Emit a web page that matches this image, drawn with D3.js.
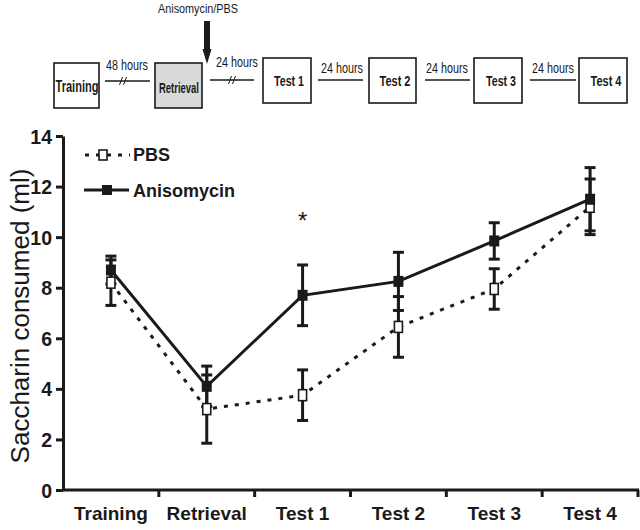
<!DOCTYPE html>
<html>
<head>
<meta charset="utf-8">
<script src="https://cdn.jsdelivr.net/npm/d3@7"></script>
<style>
  html, body { margin: 0; padding: 0; background: #fff; }
  svg { display: block; }
  text { font-family: "Liberation Sans", Arial, sans-serif; fill: #1a1a1a; }
</style>
</head>
<body>
<svg id="chart" width="640" height="530"></svg>
<script>
// ---- data ----
const categories = ["Training", "Retrieval", "Test 1", "Test 2", "Test 3", "Test 4"];
const pbsMean    = [8.2, 3.2, 3.75, 6.45, 7.95, 11.2];
const pbsErr     = [0.9, 1.35, 1.0, 1.2, 0.8, 1.1];
const anisoMean  = [8.7, 4.1, 7.7, 8.25, 9.85, 11.5];
const anisoErr   = [0.55, 0.8, 1.2, 1.15, 0.72, 1.25];
const yTicks     = [0, 2, 4, 6, 8, 10, 12, 14];
const seriesNames = ["PBS", "Anisomycin"];
const yTitle = "Saccharin consumed (ml)";
const sigMarks = ["", "", "*", "", "", ""];

// timeline diagram labels
const stageLabels = ["Training", "Retrieval", "Test 1", "Test 2", "Test 3", "Test 4"];
const intervalLabels = ["48 hours", "24 hours", "24 hours", "24 hours", "24 hours"];
const injectionLabel = "Anisomycin/PBS";

const INK = "#1a1a1a";
const svg = d3.select("#chart");

// ---- scales ----
const x = d3.scaleBand().domain(categories).range([63, 638]).padding(0);
const y = d3.scaleLinear().domain([0, 14]).range([490, 136]);
const cx = c => x(c) + x.bandwidth() / 2;

// ---- y axis ----
const yAxis = svg.append("g").attr("transform", "translate(63,0)")
  .call(d3.axisLeft(y).tickValues(yTicks).tickSize(7).tickSizeOuter(0).tickPadding(4).tickFormat(d3.format("d")));
yAxis.select(".domain").attr("stroke", INK).attr("stroke-width", 3);
yAxis.selectAll(".tick line").attr("stroke", INK).attr("stroke-width", 3);
yAxis.selectAll(".tick text").attr("font-size", 19.5).attr("font-weight", "bold")
  .attr("font-family", "Liberation Sans, Arial, sans-serif").attr("fill", INK).attr("dy", "0.36em");

// ---- x axis ----
const xAxis = svg.append("g").attr("transform", "translate(0,490)")
  .call(d3.axisBottom(x).tickSize(0).tickPadding(17));
xAxis.select(".domain").remove();
xAxis.selectAll(".tick text").attr("font-size", 19).attr("font-weight", "bold")
  .attr("font-family", "Liberation Sans, Arial, sans-serif").attr("fill", INK);
svg.append("line").attr("x1", 62).attr("x2", 639).attr("y1", 490).attr("y2", 490)
  .attr("stroke", INK).attr("stroke-width", 3);
svg.append("g").selectAll("line").data(categories).join("line")
  .attr("x1", c => x(c) + x.bandwidth()).attr("x2", c => x(c) + x.bandwidth())
  .attr("y1", 490).attr("y2", 497).attr("stroke", INK).attr("stroke-width", 3);

// ---- y title ----
svg.append("text")
  .attr("transform", "translate(29,316) rotate(-90)")
  .attr("text-anchor", "middle")
  .attr("font-size", 26)
  .text(yTitle);

// ---- error bars ----
function errorBars(means, errs) {
  const g = svg.append("g").attr("stroke", INK).attr("stroke-width", 3);
  categories.forEach((c, i) => {
    const xc = cx(c), top = y(means[i] + errs[i]), bot = y(means[i] - errs[i]);
    g.append("line").attr("x1", xc).attr("x2", xc).attr("y1", top).attr("y2", bot);
    g.append("line").attr("x1", xc - 5.5).attr("x2", xc + 5.5).attr("y1", top).attr("y2", top);
    g.append("line").attr("x1", xc - 5.5).attr("x2", xc + 5.5).attr("y1", bot).attr("y2", bot);
  });
}
errorBars(pbsMean, pbsErr);
errorBars(anisoMean, anisoErr);

// ---- lines ----
const line = d3.line().x((d, i) => cx(categories[i])).y(d => y(d));
svg.append("path").datum(pbsMean).attr("d", line).attr("fill", "none")
  .attr("stroke", INK).attr("stroke-width", 3).attr("stroke-dasharray", "4,7");
svg.append("path").datum(anisoMean).attr("d", line).attr("fill", "none")
  .attr("stroke", INK).attr("stroke-width", 3);

// ---- markers ----
svg.append("g").selectAll("rect").data(pbsMean).join("rect")
  .attr("x", (d, i) => cx(categories[i]) - 4).attr("y", d => y(d) - 5.5)
  .attr("width", 8).attr("height", 11)
  .attr("fill", "#fff").attr("stroke", INK).attr("stroke-width", 1.6);
svg.append("g").selectAll("rect").data(anisoMean).join("rect")
  .attr("x", (d, i) => cx(categories[i]) - 5).attr("y", d => y(d) - 5.5)
  .attr("width", 10).attr("height", 11)
  .attr("fill", INK);

// ---- significance ----
svg.append("g").selectAll("text").data(sigMarks).join("text")
  .attr("x", (d, i) => cx(categories[i])).attr("y", 229)
  .attr("text-anchor", "middle").attr("font-size", 24)
  .text(d => d);

// ---- legend ----
const leg = svg.append("g");
leg.append("line").attr("x1", 85).attr("x2", 130).attr("y1", 155).attr("y2", 155)
  .attr("stroke", INK).attr("stroke-width", 3).attr("stroke-dasharray", "4,7").attr("stroke-dashoffset", 0);
leg.append("rect").attr("x", 99).attr("y", 150).attr("width", 8).attr("height", 10)
  .attr("fill", "#fff").attr("stroke", INK).attr("stroke-width", 1.6);
leg.append("text").attr("x", 133).attr("y", 161).attr("font-size", 18).attr("font-weight", "bold").text(seriesNames[0]);
leg.append("line").attr("x1", 84).attr("x2", 129).attr("y1", 190).attr("y2", 190)
  .attr("stroke", INK).attr("stroke-width", 3);
leg.append("rect").attr("x", 102).attr("y", 185).attr("width", 10).attr("height", 10).attr("fill", INK);
leg.append("text").attr("x", 133).attr("y", 197).attr("font-size", 18).attr("font-weight", "bold").text(seriesNames[1]);

// ---- timeline diagram ----
const NARROW = "'Liberation Sans Narrow', 'Liberation Sans', Arial, sans-serif";
const tl = svg.append("g");
const boxes = [
  {x0: 54, x1: 99, y0: 63, y1: 108, fill: "#fff", fs: 16, tl: 43, tx: 77, ty: 92},
  {x0: 155, x1: 202, y0: 63, y1: 108, fill: "#d9d9d9", fs: 14, tl: 40, tx: 179, ty: 93},
  {x0: 263, x1: 311, y0: 58, y1: 103, fill: "#fff", fs: 15, tl: 30, tx: 289, ty: 86},
  {x0: 369, x1: 416, y0: 58, y1: 103, fill: "#fff", fs: 15, tl: 31, tx: 395, ty: 86},
  {x0: 474, x1: 522, y0: 58, y1: 103, fill: "#fff", fs: 15, tl: 30, tx: 501, ty: 86},
  {x0: 579, x1: 627, y0: 58, y1: 103, fill: "#fff", fs: 15, tl: 31, tx: 606, ty: 86}
];
boxes.forEach((b, i) => {
  tl.append("rect").attr("x", b.x0).attr("y", b.y0).attr("width", b.x1 - b.x0).attr("height", b.y1 - b.y0)
    .attr("fill", b.fill).attr("stroke", INK).attr("stroke-width", 1.6);
  tl.append("text").attr("x", b.tx).attr("y", b.ty).attr("text-anchor", "middle")
    .attr("font-family", NARROW).attr("font-weight", "bold").attr("font-size", b.fs)
    .attr("textLength", b.tl).attr("lengthAdjust", "spacingAndGlyphs")
    .text(stageLabels[i]);
});
const gaps = [
  {x0: 105, x1: 150, y: 81, brk: 123, tx: 127, ty: 70},
  {x0: 210, x1: 254, y: 80, brk: 232, tx: 237, ty: 67},
  {x0: 318, x1: 363, y: 80, brk: null, tx: 342, ty: 73},
  {x0: 425, x1: 470, y: 80, brk: null, tx: 447, ty: 73},
  {x0: 530, x1: 576, y: 80, brk: null, tx: 553, ty: 73}
];
gaps.forEach((g, i) => {
  tl.append("line").attr("x1", g.x0).attr("x2", g.x1).attr("y1", g.y).attr("y2", g.y)
    .attr("stroke", INK).attr("stroke-width", 1.4);
  if (g.brk !== null) {
    [-2, 2].forEach(d => {
      tl.append("line").attr("x1", g.brk + d - 1.5).attr("x2", g.brk + d + 1.5)
        .attr("y1", g.y + 4).attr("y2", g.y - 4).attr("stroke", INK).attr("stroke-width", 1);
    });
  }
  tl.append("text").attr("x", g.tx).attr("y", g.ty).attr("text-anchor", "middle")
    .attr("font-family", NARROW).attr("font-size", 14)
    .attr("textLength", 42).attr("lengthAdjust", "spacingAndGlyphs")
    .text(intervalLabels[i]);
});
// injection arrow
tl.append("path")
  .attr("d", "M204,21 L210,21 L210,49 L211.5,49 L207,64 L202.5,49 L204,49 Z")
  .attr("fill", INK);
tl.append("text").attr("x", 198).attr("y", 13).attr("text-anchor", "middle")
  .attr("font-family", NARROW).attr("font-size", 12.5)
  .attr("textLength", 80).attr("lengthAdjust", "spacingAndGlyphs")
  .text(injectionLabel);
</script>
</body>
</html>
